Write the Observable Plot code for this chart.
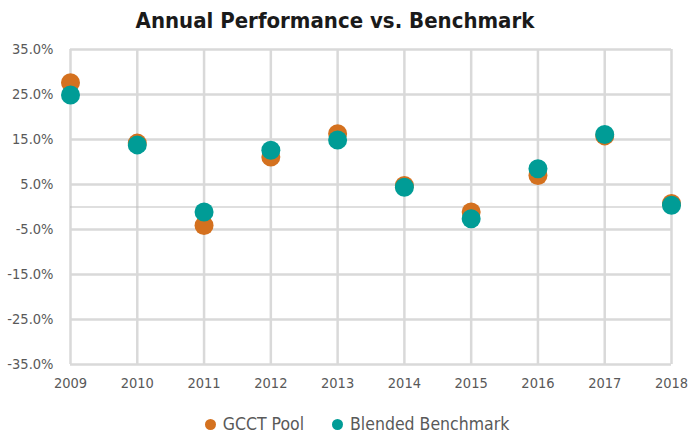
<!DOCTYPE html>
<html>
<head>
<meta charset="utf-8">
<script src="https://cdn.jsdelivr.net/npm/d3@7"></script>
<script src="https://cdn.jsdelivr.net/npm/@observablehq/plot@0.6"></script>
<style>
  body { margin: 0; background: #fff; font-family: "Liberation Sans Narrow", "DejaVu Sans Condensed", "Roboto", sans-serif; }
  #wrap { width: 688px; }
  #title { height: 36px; line-height: 41px; text-align: center; font-size: 22px; font-weight: bold; color: #1a1a1a; padding-right: 18px; }
  #legend { display: flex; justify-content: center; align-items: center; gap: 28px; font-size: 17.5px; color: #595959; margin-top: 14px; padding-left: 26px; }
  .item { display: flex; align-items: center; gap: 7px; }
  .sw { width: 11px; height: 11px; border-radius: 50%; display: inline-block; }
</style>
</head>
<body>
<div id="wrap">
  <div id="title">Annual Performance vs. Benchmark</div>
  <div id="chart"></div>
  <div id="legend"></div>
</div>
<script>
const years = [2009, 2010, 2011, 2012, 2013, 2014, 2015, 2016, 2017, 2018];
const gcctPool = [27.6, 14.2, -4.1, 11.1, 16.3, 4.8, -1.1, 7.0, 15.8, 0.8];
const blendedBenchmark = [24.9, 13.8, -1.1, 12.6, 14.9, 4.4, -2.6, 8.5, 16.1, 0.4];
const yTicks = [-35, -25, -15, -5, 5, 15, 25, 35];
const seriesNames = ["GCCT Pool", "Blended Benchmark"];
const seriesColors = ["#D4711F", "#009C96"];

const data = [];
years.forEach((yr, i) => {
  data.push({ year: yr, value: gcctPool[i], series: seriesNames[0] });
});
years.forEach((yr, i) => {
  data.push({ year: yr, value: blendedBenchmark[i], series: seriesNames[1] });
});

const font = '"Liberation Sans Narrow", "DejaVu Sans Condensed", sans-serif';

const chart = Plot.plot({
  width: 688,
  height: 364,
  marginLeft: 70,
  marginRight: 17,
  marginTop: 13,
  marginBottom: 36,
  style: { fontFamily: font, fontSize: "14px", color: "#595959", background: "#fff" },
  x: { type: "linear", domain: [2009, 2018], ticks: years, tickFormat: d => String(d), tickSize: 0, tickPadding: 13, label: null },
  y: { domain: [-35, 35], ticks: yTicks, tickFormat: d => d.toFixed(1) + "%", tickSize: 0, tickPadding: 17, label: null },
  color: { domain: seriesNames, range: seriesColors },
  marks: [
    Plot.ruleY(yTicks, { stroke: "#d9d9d9", strokeWidth: 2.5 }),
    Plot.ruleX(years, { stroke: "#d9d9d9", strokeWidth: 2.5 }),
    Plot.ruleY([0], { stroke: "#bfbfbf", strokeWidth: 1 }),
    Plot.dot(data, { x: "year", y: "value", fill: "series", r: 9.5 }),
    Plot.axisY({ ticks: yTicks, tickFormat: d => d.toFixed(1) + "%", tickSize: 0, tickPadding: 17, fontSize: 14.5, fill: "#595959" }),
    Plot.axisX({ ticks: years, tickFormat: d => String(d), tickSize: 0, tickPadding: 13, fontSize: 14.5, fill: "#595959" })
  ]
});
document.getElementById("chart").appendChild(chart);

const legend = document.getElementById("legend");
seriesNames.forEach((name, i) => {
  const item = document.createElement("span");
  item.className = "item";
  const sw = document.createElement("span");
  sw.className = "sw";
  sw.style.background = seriesColors[i];
  const t = document.createElement("span");
  t.textContent = name;
  item.appendChild(sw);
  item.appendChild(t);
  legend.appendChild(item);
});
</script>
</body>
</html>
